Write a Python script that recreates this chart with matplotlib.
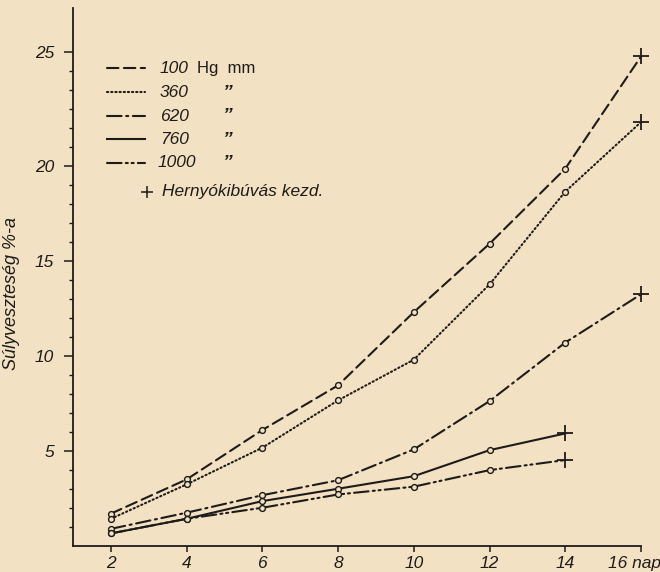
import matplotlib
matplotlib.use("Agg")
import matplotlib.pyplot as plt
from matplotlib.ticker import FixedLocator
from matplotlib.transforms import ScaledTranslation

# days of observation
days = [2, 4, 6, 8, 10, 12, 14, 16]

# weight loss (%) per air pressure (Hg mm)
loss_100 = [1.7, 3.5, 6.1, 8.45, 12.3, 15.9, 19.85, 25.75]
loss_360 = [1.43, 3.24, 5.17, 7.66, 9.8, 13.76, 18.64, 22.3]
loss_620 = [0.9, 1.75, 2.67, 3.46, 5.08, 7.62, 10.7, 13.24]
loss_760 = [0.66, 1.43, 2.36, 3.01, 3.67, 5.04, 5.92]
loss_1000 = [0.66, 1.43, 2.01, 2.71, 3.12, 3.99, 4.52]

pressure_labels = ["100", "360", "620", "760", "1000"]
xtick_labels = ["2", "4", "6", "8", "10", "12", "14", "16 nap"]
# the printed "25" sits one unit too high on the original scale
ytick_pos = [5, 10, 15, 20, 26]
ytick_labels = ["5", "10", "15", "20", "25"]

PAPER = "#f2e1c2"
INK = "#1e1c1a"
FONT = ["Liberation Sans", "DejaVu Sans"]

styles = [
    (0, (5.5, 2.6)),
    (0, (0.6, 1.4)),
    (0, (7, 2.2, 1, 2.2)),
    "-",
    (0, (7, 2, 1, 1.8, 1, 2)),
]
series = [loss_100, loss_360, loss_620, loss_760, loss_1000]

fig = plt.figure(figsize=(6.6, 5.72), dpi=100, facecolor=PAPER)
ax = fig.add_axes([0.1106, 0.0455, 0.8606, 0.9405], facecolor=PAPER)

for vals, ls in zip(series, styles):
    x = days[:len(vals)]
    ax.plot(x, vals, color=INK, lw=1.5, linestyle=ls, dash_capstyle="round",
            clip_on=False, zorder=2)
    # open circles for intermediate readings, "+" where caterpillars emerge
    ax.plot(x[:-1], vals[:-1], linestyle="none", marker="o", ms=4.2,
            mfc=PAPER, mec=INK, mew=1.0, zorder=3)
    ax.plot(x[-1:], vals[-1:], linestyle="none", marker="+", ms=11,
            mec=INK, mew=1.3, clip_on=False, zorder=3)

ax.set_xlim(1, 16)
ax.set_ylim(0, 28.3)

for side in ["top", "right"]:
    ax.spines[side].set_visible(False)
for side in ["left", "bottom"]:
    ax.spines[side].set_color(INK)
    ax.spines[side].set_linewidth(1.3)

ax.set_xticks(days)
ax.set_xticklabels(xtick_labels)
ax.set_yticks(ytick_pos)
ax.set_yticklabels(ytick_labels)
minor = [v for v in range(1, 26) if v not in ytick_pos]
ax.yaxis.set_minor_locator(FixedLocator(minor))

ax.tick_params(axis="x", which="major", direction="out", length=4.5, width=1.1,
               color=INK, pad=2.5, labelsize=12.5, labelcolor=INK)
ax.tick_params(axis="y", which="major", direction="out", length=6.5, width=1.1,
               color=INK, pad=7, labelsize=12.5, labelcolor=INK)
ax.tick_params(axis="y", which="minor", direction="out", length=3.2, width=1.0,
               color=INK)
for lab in ax.get_xticklabels() + ax.get_yticklabels():
    lab.set_family(FONT)
    lab.set_style("italic")

# "16 nap" is printed with the number just left of the last tick
last = ax.xaxis.get_major_ticks()[-1].label1
last.set_transform(last.get_transform()
                   + ScaledTranslation(-5 / 72, 0, fig.dpi_scale_trans))

ax.set_ylabel("Súlyveszteség %-a", fontsize=13, family=FONT, style="italic",
              color=INK)
ax.yaxis.set_label_coords(-0.093, 0.47)

# hand-drawn legend, as in the print
row_y = [0.888, 0.843, 0.799, 0.756, 0.712]
for ls, lab, y in zip(styles, pressure_labels, row_y):
    ax.plot([0.06, 0.127], [y, y], transform=ax.transAxes, color=INK, lw=1.5,
            linestyle=ls, dash_capstyle="round", clip_on=False)
    ax.text(0.153 if lab != "1000" else 0.149, y, lab, transform=ax.transAxes,
            fontsize=12.5, family=FONT, style="italic", color=INK,
            va="center", ha="left")
ax.text(0.218, row_y[0], "Hg  mm", transform=ax.transAxes, fontsize=12,
        family=FONT, color=INK, va="center", ha="left")
for y in row_y[1:]:
    ax.text(0.262, y, "\u201d", transform=ax.transAxes, fontsize=14,
            family=FONT, style="italic", weight="bold", color=INK,
            va="center", ha="left")
ax.plot([0.13], [0.658], transform=ax.transAxes, marker="+", ms=9,
        mec=INK, mew=1.1, linestyle="none", clip_on=False)
ax.text(0.157, 0.658, "Hernyókibúvás kezd.", transform=ax.transAxes,
        fontsize=12.5, family=FONT, style="italic", color=INK,
        va="center", ha="left")

fig.savefig("out.png", dpi=100, facecolor=PAPER)
